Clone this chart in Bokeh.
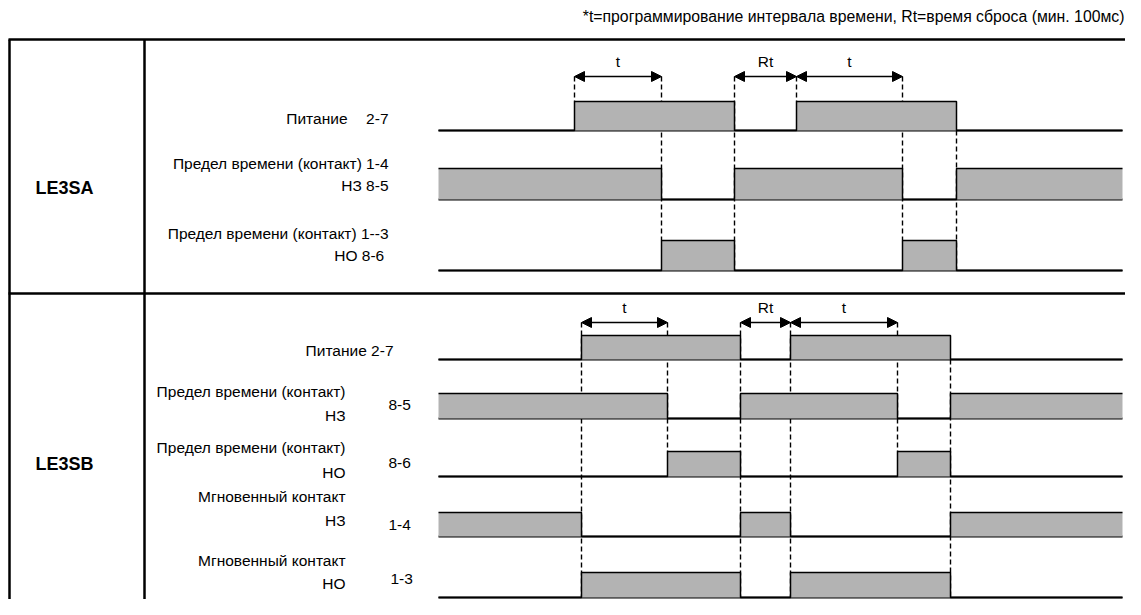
from bokeh.plotting import figure
from bokeh.models import Range1d, Arrow, NormalHead
from bokeh.core.properties import value
from bokeh.embed import file_html
from bokeh.resources import INLINE

# ---------------- data (time along the track, arbitrary units) ----------------
TRACK_END = 684

# LE3SA: power-on, timeout, power-off instants for the two cycles
SA_ON = [136, 358]
SA_TIMEOUT = [223, 464]
SA_OFF = [296, 518]

# LE3SB
SB_ON = [143, 352]
SB_TIMEOUT = [229, 459]
SB_OFF = [302, 512]

NOTE = "*t=программирование интервала времени, Rt=время сброса (мин. 100мс)"
MODELS = ["LE3SA", "LE3SB"]
SA_LABELS = ["Питание", "2-7", "Предел времени (контакт) 1-4", "НЗ 8-5",
             "Предел времени (контакт) 1--3", "НО  8-6"]
SB_LABELS = ["Питание 2-7", "Предел времени (контакт)", "НЗ", "Предел времени (контакт)", "НО",
             "Мгновенный контакт", "НЗ", "Мгновенный контакт", "НО"]
SB_PINS = ["8-5", "8-6", "1-4", "1-3"]

# ---------------- styling ----------------
FONT = "Liberation Sans"
GRAY = "#b3b3b3"
FS = "15.5px"

p = figure(width=1125, height=599, x_range=Range1d(-438, 687), y_range=Range1d(599, 0),
           output_backend="svg", toolbar_location=None, min_border=0,
           x_axis_location=None, y_axis_location=None)
p.grid.visible = False
p.outline_line_color = None
p.background_fill_color = "white"

# frame
p.segment(x0=[-430, -429, -294, -430], y0=[39, 39, 39, 293],
          x1=[690, -429, -294, 690], y1=[39, 600, 600, 293],
          line_color="black", line_width=2.5)


def dashes(xs, y0s, y1s):
    p.segment(x0=xs, y0=y0s, x1=xs, y1=y1s, line_color="black",
              line_width=1.4, line_dash="5 3")


def signal(starts, ends, base, top):
    p.line(x=[0, TRACK_END], y=[base, base], line_color="black", line_width=2)
    p.quad(left=starts, right=ends, bottom=[base] * len(starts), top=[top] * len(starts),
           fill_color=GRAY, line_color=None)
    xs, ys = [], []
    if starts[0] > 0:
        xs.append(0); ys.append(base)
    for s, e in zip(starts, ends):
        if s > 0:
            xs += [s, s]; ys += [base, top]
        else:
            xs.append(s); ys.append(top)
        xs.append(e); ys.append(top)
        if e < TRACK_END:
            xs.append(e); ys.append(base)
    if ends[-1] < TRACK_END:
        xs.append(TRACK_END); ys.append(base)
    p.line(x=xs, y=ys, line_color="black", line_width=1.5)


# ---------------- LE3SA ----------------
dashes([SA_ON[0], SA_TIMEOUT[0], SA_OFF[0], SA_ON[1], SA_TIMEOUT[1], SA_OFF[1]],
       [76, 76, 76, 76, 76, 130], [101, 240, 270, 101, 240, 270])
signal(SA_ON, SA_OFF, 130, 101)
signal([0, SA_OFF[0], SA_OFF[1]], [SA_TIMEOUT[0], SA_TIMEOUT[1], TRACK_END], 199, 168)
signal(SA_TIMEOUT, SA_OFF, 270, 240)

# ---------------- LE3SB ----------------
dashes([SB_ON[0], SB_TIMEOUT[0], SB_OFF[0], SB_ON[1], SB_TIMEOUT[1], SB_OFF[1]],
       [322, 322, 322, 322, 322, 359], [597, 451, 597, 597, 451, 597])
signal(SB_ON, SB_OFF, 359, 335)
signal([0, SB_OFF[0], SB_OFF[1]], [SB_TIMEOUT[0], SB_TIMEOUT[1], TRACK_END], 418, 393)
signal(SB_TIMEOUT, SB_OFF, 476, 451)
signal([0, SB_OFF[0], SB_OFF[1]], [SB_ON[0], SB_ON[1], TRACK_END], 536, 512)
signal(SB_ON, SB_OFF, 597, 572)

# ---------------- arrows t / Rt ----------------
for (ons, tos, offs, ya, yl) in [(SA_ON, SA_TIMEOUT, SA_OFF, 76, 61), (SB_ON, SB_TIMEOUT, SB_OFF, 322, 307)]:
    spans = [(ons[0], tos[0], "t"), (offs[0], ons[1], "Rt"), (ons[1], tos[1], "t")]
    for a, b, lab in spans:
        p.add_layout(Arrow(x_start=a, y_start=ya, x_end=b, y_end=ya,
                           start=NormalHead(size=10, fill_color="black", line_color="black"),
                           end=NormalHead(size=10, fill_color="black", line_color="black"),
                           line_color="black", line_width=1.5))
    p.text(x=[(a + b) / 2 for a, b, _ in spans], y=[yl] * 3, text=[s[2] for s in spans],
           text_font=value(FONT), text_font_size=value(FS), text_align="center",
           text_baseline="middle", text_color="black")

# ---------------- texts ----------------
p.text(x=[686], y=[16], text=[NOTE], text_font=value(FONT), text_font_size=value("15.8px"),
       text_align="right", text_baseline="middle", text_color="black")

p.text(x=[-403, -403], y=[187, 463], text=MODELS, text_font=value(FONT),
       text_font_size=value("18px"), text_font_style="bold", text_align="left",
       text_baseline="middle", text_color="black")

p.text(x=[-91, -50, -50, -50, -50, -50], y=[118, 118, 163, 185, 233, 255], text=SA_LABELS,
       text_font=value(FONT), text_font_size=value(FS), text_align="right",
       text_baseline="middle", text_color="black")

p.text(x=[-45, -93, -93, -93, -93, -93, -93, -93, -93],
       y=[350, 391, 415, 447, 472, 496, 520, 560, 583], text=SB_LABELS,
       text_font=value(FONT), text_font_size=value(FS), text_align="right",
       text_baseline="middle", text_color="black")

p.text(x=[-50, -50, -50, -48], y=[404, 462, 524, 578], text=SB_PINS,
       text_font=value(FONT), text_font_size=value(FS), text_align="left",
       text_baseline="middle", text_color="black")

open("out.html", "w").write(file_html(p, INLINE))
